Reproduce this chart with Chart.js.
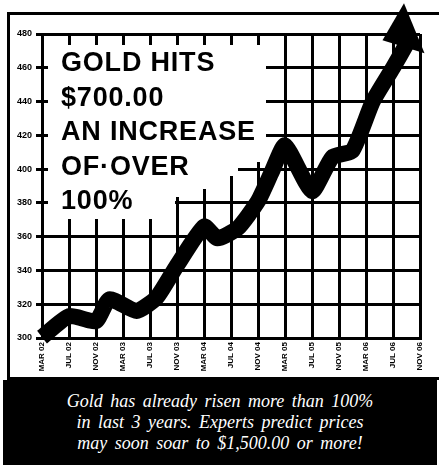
<!DOCTYPE html>
<html>
<head>
<meta charset="utf-8">
<script src="https://cdn.jsdelivr.net/npm/chart.js@4.4.1/dist/chart.umd.min.js"></script>
<style>
  html, body { margin: 0; padding: 0; background: #fff; }
  #wrap { position: relative; width: 439px; height: 465px; overflow: hidden; }
  #c { position: absolute; left: 0; top: 0; }
  #frame { position: absolute; left: 7px; top: 12px; width: 432px; height: 362px;
           border-top: 3px solid #000; border-left: 3px solid #000; border-bottom: 3px solid #000; pointer-events: none; }
  #headline { position: absolute; left: 61px; top: 45px; font-family: "Liberation Sans", Arial, sans-serif;
              font-weight: bold; font-size: 27px; line-height: 34.5px; letter-spacing: 0.8px; color: #000; white-space: nowrap; }
  #caption { position: absolute; left: 3px; top: 380px; width: 434px; height: 85px; background: #000; color: #fff;
             font-family: "Liberation Serif", "Times New Roman", serif; font-style: italic; font-size: 18px;
             line-height: 21px; word-spacing: 3px; text-align: center; box-sizing: border-box; padding-top: 11px; }
</style>
</head>
<body>
<div id="wrap">
  <canvas id="c" width="439" height="465"></canvas>
  <div id="frame"></div>
  <div id="headline">GOLD HITS<br>$700.00<br>AN INCREASE<br>OF&middot;OVER<br>100%</div>
  <div id="caption">Gold has already risen more than 100%<br>in last 3 years. Experts predict prices<br>may soon soar to $1,500.00 or more!</div>
</div>
<script>
// Tick labels along the time axis (one every 4 months)
const tickLabels = ["MAR 02","JUL 02","NOV 02","MAR 03","JUL 03","NOV 03","MAR 04","JUL 04",
                    "NOV 04","MAR 05","JUL 05","NOV 05","MAR 06","JUL 06","NOV 06"];
// Month index (months after MAR 02) of each read point
const monthIndex = [0, 4, 8, 10, 14, 17, 20, 24, 26, 29, 32, 34, 36, 40, 43, 46, 49, 52, 54];
// Gold price ($/oz)
const goldPrice  = [300.5, 313, 310, 323, 316, 324, 343, 366, 359, 365, 381, 398, 414, 387, 407, 411, 440, 460, 474];
// Y axis range
const yMin = 300, yMax = 480, yStep = 20;

const maskPlugin = {
  id: 'mask',
  beforeDatasetsDraw(chart) {
    const ctx = chart.ctx;
    ctx.save();
    ctx.fillStyle = '#fff';
    ctx.beginPath();
    ctx.moveTo(48, 45); ctx.lineTo(266, 45); ctx.lineTo(266, 162); ctx.lineTo(238, 162);
    ctx.lineTo(238, 176); ctx.lineTo(228, 176); ctx.lineTo(228, 189); ctx.lineTo(200, 189);
    ctx.lineTo(200, 197); ctx.lineTo(175, 197); ctx.lineTo(175, 219); ctx.lineTo(48, 219);
    ctx.closePath();
    ctx.fill();
    ctx.restore();
  }
};

const arrowPlugin = {
  id: 'arrow',
  afterDatasetsDraw(chart) {
    const meta = chart.getDatasetMeta(0);
    const last = meta.data[meta.data.length - 1];
    const ctx = chart.ctx;
    ctx.save();
    ctx.fillStyle = '#000';
    ctx.beginPath();
    ctx.moveTo(last.x - 2.5, last.y - 41);
    ctx.lineTo(last.x + 18, last.y + 9);
    ctx.lineTo(last.x - 24, last.y - 4);
    ctx.closePath();
    ctx.fill();
    ctx.restore();
  }
};

new Chart(document.getElementById('c'), {
  type: 'line',
  data: {
    datasets: [{
      data: monthIndex.map((m, i) => ({ x: m, y: goldPrice[i] })),
      borderColor: '#000',
      borderWidth: 16,
      pointRadius: 0,
      tension: 0.18,
      borderCapStyle: 'butt',
      borderJoinStyle: 'round',
      clip: false
    }]
  },
  options: {
    responsive: false,
    devicePixelRatio: 1,
    animation: false,
    layout: { padding: { top: 34, right: 19, left: 0, bottom: 0 } },
    plugins: { legend: { display: false }, tooltip: { enabled: false } },
    scales: {
      x: {
        type: 'linear',
        min: 0, max: (tickLabels.length - 1) * 4,
        afterFit(s) { s.height = 127; },
        grid: { color: '#000', lineWidth: 3, tickLength: 2 },
        border: { display: true, color: '#000', width: 3 },
        ticks: {
          stepSize: 4, autoSkip: false, minRotation: 90, maxRotation: 90, padding: 2,
          color: '#000', font: { family: 'Liberation Sans', weight: 'bold', size: 8 },
          callback: (v) => tickLabels[v / 4]
        }
      },
      y: {
        min: yMin, max: yMax,
        afterFit(s) { s.width = 42; },
        grid: { color: '#000', lineWidth: 3, tickLength: 6 },
        border: { display: true, color: '#000', width: 3 },
        ticks: {
          stepSize: yStep, padding: 4, color: '#000',
          font: { family: 'Liberation Sans', weight: 'bold', size: 9 }
        }
      }
    }
  },
  plugins: [maskPlugin, arrowPlugin]
});
</script>
</body>
</html>
